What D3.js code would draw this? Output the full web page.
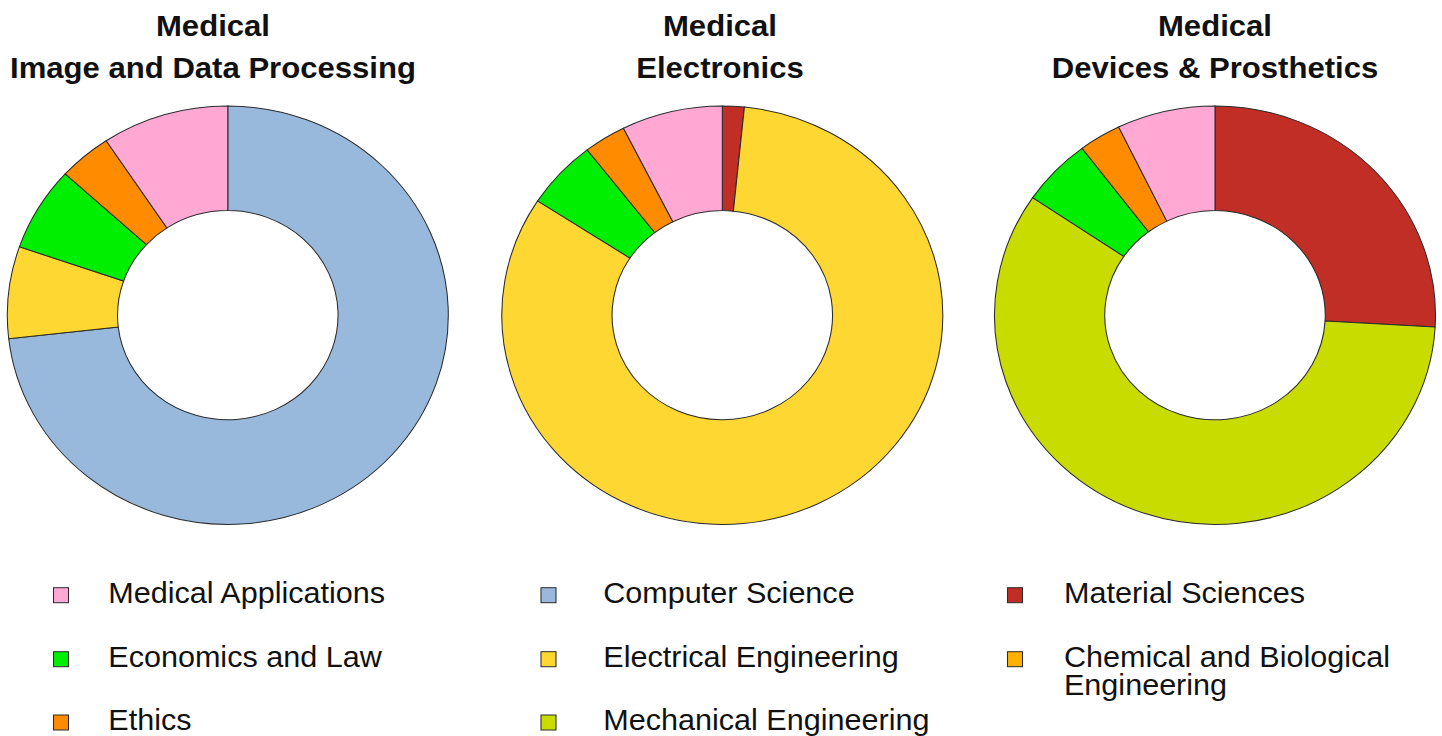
<!DOCTYPE html>
<html>
<head>
<meta charset="utf-8">
<script src="https://cdn.jsdelivr.net/npm/d3@7"></script>
<style>
  body { margin: 0; background: #fff; }
  svg { display: block; }
  text { font-family: "Liberation Sans", Arial, sans-serif; fill: #111; }
</style>
</head>
<body>
<script>
var width = 1442,
    height = 736;

// disciplines, in legend order (column by column)
var fields = ["Medical Applications", "Economics and Law", "Ethics",
              "Computer Science", "Electrical Engineering", "Mechanical Engineering",
              "Material Sciences", "Chemical and Biological Engineering"];
var fieldColors = ["#ffa8d4", "#00ee00", "#ff8c00",
                   "#98b9dc", "#ffd732", "#c8dc00",
                   "#c02e26", "#ffb000"];

var titles = [["Medical", "Image and Data Processing"],
              ["Medical", "Electronics"],
              ["Medical", "Devices & Prosthetics"]];

// slices clockwise from 12 o'clock, share in %
var imagingFields  = ["Computer Science", "Electrical Engineering", "Economics and Law", "Ethics", "Medical Applications"];
var imagingValues  = [73.2, 7.1, 6.5, 3.9, 9.3];
var electroFields  = ["Material Sciences", "Electrical Engineering", "Economics and Law", "Ethics", "Medical Applications"];
var electroValues  = [1.6, 82.6, 5.3, 3.1, 7.4];
var devicesFields  = ["Material Sciences", "Mechanical Engineering", "Economics and Law", "Ethics", "Medical Applications"];
var devicesValues  = [25.9, 58.6, 5.2, 3.1, 7.2];

var sx = 1.054; // the whole figure is a bit wider than tall
var color = d3.scaleOrdinal().domain(fields).range(fieldColors);

var svg = d3.select("body").append("svg")
    .attr("width", width)
    .attr("height", height);

var root = svg.append("g").attr("transform", "scale(" + sx + ",1)");

var charts = [
    { fields: imagingFields, values: imagingValues, cx: 227.8, titleX: 213 },
    { fields: electroFields, values: electroValues, cx: 722.3, titleX: 720 },
    { fields: devicesFields, values: devicesValues, cx: 1215,  titleX: 1215 }
];

var cy = 315.2, outerR = 209.2, innerR = 104.6;

var pie = d3.pie().sort(null).value(function (d) { return d.value; });
var arc = d3.arc().innerRadius(innerR).outerRadius(outerR);

charts.forEach(function (c, i) {
    var rows = c.fields.map(function (f, j) { return { field: f, value: c.values[j] }; });

    var g = root.append("g")
        .attr("transform", "translate(" + (c.cx / sx) + "," + cy + ")");

    g.selectAll("path")
        .data(pie(rows))
        .enter().append("path")
        .attr("d", arc)
        .style("fill", function (d) { return color(d.data.field); })
        .style("stroke", "#2b2b2b")
        .style("stroke-width", 1);

    var t = root.append("text")
        .attr("x", c.titleX / sx)
        .attr("text-anchor", "middle")
        .style("font-weight", "bold")
        .style("font-size", "29.5px");
    t.append("tspan").attr("x", c.titleX / sx).attr("y", 36.5).text(titles[i][0]);
    t.append("tspan").attr("x", c.titleX / sx).attr("y", 78.3).text(titles[i][1]);
});

// legend, 3 columns
var colSquare = [53.5, 541, 1007.5],
    colText = [108.3, 603.3, 1064],
    rowBase = [602.7, 666.7, 730],
    box = 15;

var legend = root.selectAll(".legend")
    .data(fields)
    .enter().append("g")
    .attr("class", "legend");

legend.append("rect")
    .attr("x", function (d, i) { return colSquare[Math.floor(i / 3)] / sx; })
    .attr("y", function (d, i) { return rowBase[i % 3] - box; })
    .attr("width", box / sx)
    .attr("height", box)
    .style("fill", function (d) { return color(d); })
    .style("stroke", "#2b2b2b")
    .style("stroke-width", 1);

legend.each(function (d, i) {
    var x = colText[Math.floor(i / 3)] / sx;
    var lines = d === "Chemical and Biological Engineering" ? ["Chemical and Biological", "Engineering"] : [d];
    var t = d3.select(this).append("text").style("font-size", "29px");
    lines.forEach(function (l, k) {
        t.append("tspan").attr("x", x).attr("y", rowBase[i % 3] + k * 28).text(l);
    });
});
</script>
</body>
</html>
